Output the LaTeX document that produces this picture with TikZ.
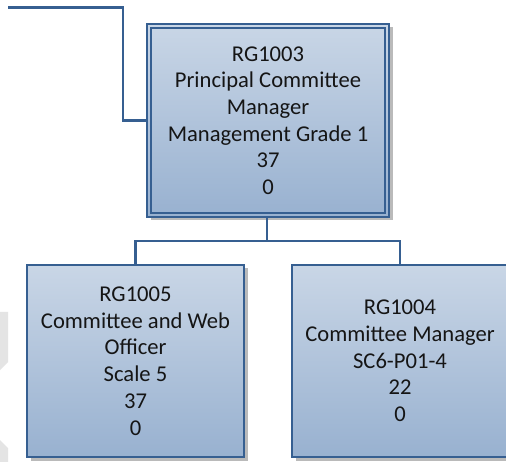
\documentclass[tikz,border=0pt]{standalone}
\usepackage{fontspec}
\setmainfont{Carlito}
\usetikzlibrary{shadows}
\definecolor{bordercol}{HTML}{365F91}
\definecolor{topfill}{HTML}{C9D6E6}
\definecolor{botfill}{HTML}{98B1D0}
\definecolor{txtcol}{HTML}{151515}
\definecolor{wmark}{HTML}{E4E4E4}
\tikzset{
  orgbox/.style={draw=bordercol, line width=2.4pt, shading=axis, top color=topfill, bottom color=botfill,
    drop shadow={shadow xshift=3.5pt, shadow yshift=-3.5pt, fill=black!45, opacity=0.6},
    inner sep=0pt, align=center, text=txtcol,
    font=\fontsize{22.6}{26.7}\selectfont},
  link/.style={draw=bordercol, line width=2.6pt}
}
\begin{document}
\begin{tikzpicture}[x=1pt,y=-1pt]
\useasboundingbox (0,0) rectangle (506,462);
\fill[white] (0,0) rectangle (506,462);
% faint watermark fragments
\fill[wmark] (0,312) -- (8,312) -- (8,362) -- (0,370) -- cycle;
\fill[wmark] (0,440) -- (8,448) -- (8,462) -- (0,462) -- cycle;
% boxes
\node[orgbox, minimum width=242pt, minimum height=193pt] (top) at (268,120.5)
  {RG1003\\Principal Committee\\Manager\\Management Grade 1\\37\\0};
\draw[bordercol, line width=2.2pt] ([shift={(5.5,5.5)}]top.north west) rectangle ([shift={(-5.5,-5.5)}]top.south east);
\node[orgbox, minimum width=217pt, minimum height=192pt] (left) at (135.5,361)
  {RG1005\\Committee and Web\\Officer\\Scale 5\\37\\0};
\node[orgbox, minimum width=216pt, minimum height=192pt] (right) at (400,361)
  {RG1004\\Committee Manager\\SC6-P01-4\\22\\0};
% connectors
\coordinate (start) at (8,7.5);
\coordinate (bend) at (123,7.5);
\coordinate (bus) at (267,241);
\draw[link] (start) -- (bend) |- (top.west);
\draw[link] (top.south -| bus) -- (bus);
\draw[link] (left.north) |- (bus) -| (right.north);
\end{tikzpicture}
\end{document}
